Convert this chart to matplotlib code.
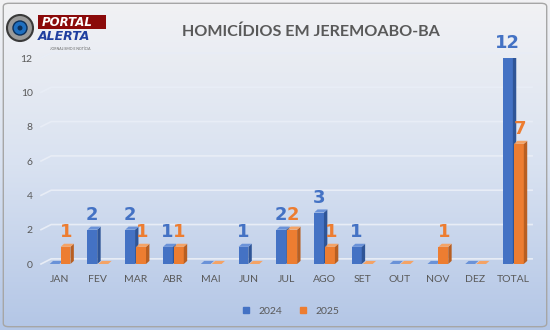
import numpy as np
import matplotlib
matplotlib.use("Agg")
import matplotlib.pyplot as plt
from matplotlib.patches import Polygon, Rectangle, FancyBboxPatch, Ellipse
from matplotlib.lines import Line2D
from matplotlib.colors import LinearSegmentedColormap

meses = ["JAN", "FEV", "MAR", "ABR", "MAI", "JUN", "JUL", "AGO", "SET", "OUT", "NOV", "DEZ", "TOTAL"]
v2024 = [0, 2, 2, 1, 0, 1, 2, 3, 1, 0, 0, 0, 12]
v2025 = [1, 0, 1, 1, 0, 0, 2, 1, 0, 0, 1, 0, 7]
yticks = [0, 2, 4, 6, 8, 10, 12]

azul, azul_lado, azul_topo = "#4472C4", "#2F5597", "#6A92D8"
laranja, laranja_lado, laranja_topo = "#ED7D31", "#B85F22", "#F4A366"
cinza = "#595959"

plt.rcParams["font.family"] = ["Lato", "DejaVu Sans"]

fig = plt.figure(figsize=(5.5, 3.3), dpi=100)

# fundo em degradê
bg = fig.add_axes([0, 0, 1, 1], zorder=-10)
grad = np.linspace(0, 1, 256).reshape(-1, 1)
cmap = LinearSegmentedColormap.from_list("fundo", ["#B3C6E6", "#D9E2F1", "#F2F2F4"])
bg.imshow(grad, aspect="auto", cmap=cmap, origin="lower", extent=[0, 1, 0, 1])
bg.add_patch(FancyBboxPatch((0.006, 0.01), 0.988, 0.98, boxstyle="round,pad=0,rounding_size=0.01",
                            fill=False, ec="#A6A6A6", lw=1, transform=bg.transAxes))
bg.set_xlim(0, 1)
bg.set_ylim(0, 1)
bg.axis("off")

ax = fig.add_axes([0.0745, 0.2, 0.893, 0.624])
ax.patch.set_alpha(0)
ax.set_xlim(-0.5, 12.5)
ax.set_ylim(0, 12)

# grade com perspectiva
gdx, gdy = 0.27, 0.3
for t in yticks:
    ax.plot([-0.5, -0.5 + gdx, 12.5], [t, t + gdy, t + gdy], color="#E8EDF6", lw=1.2,
            zorder=1, clip_on=False)

w = 0.26
dx, dy = 0.09, 0.18
x = np.arange(len(meses))


def barra3d(x0, h, frente, lado, topo):
    ax.add_patch(Rectangle((x0, 0), w, h, fc=frente, ec="none", zorder=3))
    ax.add_patch(Polygon([(x0 + w, 0), (x0 + w + dx, dy), (x0 + w + dx, h + dy), (x0 + w, h)],
                         fc=lado, ec="none", zorder=3))
    ax.add_patch(Polygon([(x0, h), (x0 + dx, h + dy), (x0 + w + dx, h + dy), (x0 + w, h)],
                         fc=topo, ec="none", zorder=3))


for i in range(len(meses)):
    barra3d(x[i] - 0.27, v2024[i], azul, azul_lado, azul_topo)
    barra3d(x[i] + 0.02, v2025[i], laranja, laranja_lado, laranja_topo)
    if v2024[i] > 0:
        ax.text(x[i] - 0.15, v2024[i] + 0.35, str(v2024[i]), color=azul, fontsize=13,
                fontweight="bold", ha="center", va="bottom", family=["DejaVu Sans"], zorder=5)
    if v2025[i] > 0:
        ax.text(x[i] + 0.17, v2025[i] + 0.35, str(v2025[i]), color=laranja, fontsize=13,
                fontweight="bold", ha="center", va="bottom", family=["DejaVu Sans"], zorder=5)

ax.set_xticks(x)
ax.set_xticklabels(meses)
ax.set_yticks(yticks)
ax.tick_params(length=0, labelsize=7.5, labelcolor=cinza)
ax.tick_params(axis="x", pad=8)
ax.tick_params(axis="y", pad=6)
for s in ax.spines.values():
    s.set_visible(False)

fig.text(0.565, 0.905, "HOMICÍDIOS EM JEREMOABO-BA", ha="center", va="center",
         fontsize=11.6, fontweight="bold", color=cinza)

handles = [Line2D([], [], marker="s", ls="none", color=azul, markersize=5),
           Line2D([], [], marker="s", ls="none", color=laranja, markersize=5)]
fig.legend(handles, ["2024", "2025"], loc="center", bbox_to_anchor=(0.522, 0.058), ncol=2,
           frameon=False, fontsize=7.5, labelcolor=cinza, handletextpad=0.2, columnspacing=1.0)

# logotipo (olho + texto)
cx, cy = 20 / 550, 1 - 28 / 330
bg.add_patch(Ellipse((cx, cy), 26 / 550, 26 / 330, transform=bg.transAxes, fc="#9A9A9A",
                     ec="#3A3A3A", lw=1.5))
bg.add_patch(Ellipse((cx, cy), 14 / 550, 14 / 330, transform=bg.transAxes, fc="#1F6FC0",
                     ec="#0B2F5A", lw=1))
bg.add_patch(Ellipse((cx, cy), 5 / 550, 5 / 330, transform=bg.transAxes, fc="#0B2F5A",
                     ec="none"))
bg.add_patch(Rectangle((38 / 550, 1 - 29 / 330), 68 / 550, 14 / 330, transform=bg.transAxes,
                       fc="#8B0A0A", ec="none"))
fig.text(42 / 550, 1 - 22 / 330, "PORTAL", color="white", fontsize=8.5, fontweight="bold",
         style="italic", va="center", family=["DejaVu Sans"])
fig.text(38 / 550, 1 - 36 / 330, "ALERTA", color="#1F3F9F", fontsize=9, fontweight="bold",
         style="italic", va="center", family=["DejaVu Sans"])
fig.text(50 / 550, 1 - 49 / 330, "JORNALISMO E NOTÍCIA", color="#666666", fontsize=2.5,
         va="center")

fig.savefig("out.png", dpi=100)
